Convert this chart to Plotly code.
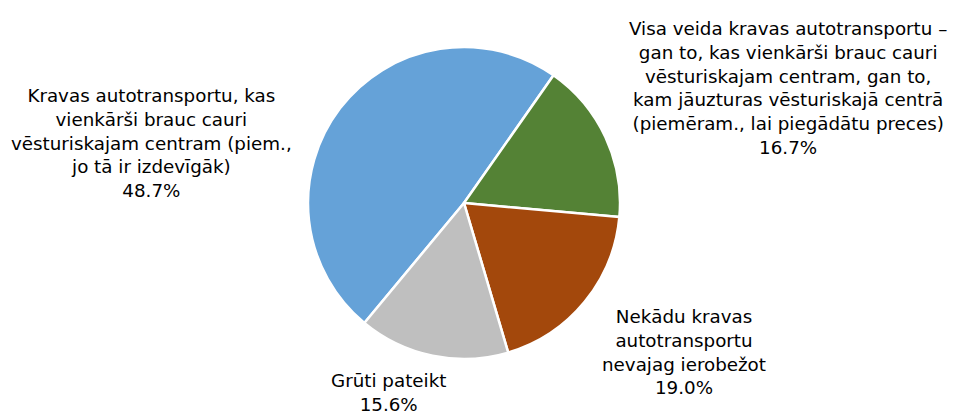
import plotly.graph_objects as go

labels = [
    "Kravas autotransportu, kas<br>vienkārši brauc cauri<br>vēsturiskajam centram (piem.,<br>jo tā ir izdevīgāk)",
    "Visa veida kravas autotransportu –<br>gan to, kas vienkārši brauc cauri<br>vēsturiskajam centram, gan to,<br>kam jāuzturas vēsturiskajā centrā<br>(piemēram., lai piegādātu preces)",
    "Nekādu kravas<br>autotransportu<br>nevajag ierobežot",
    "Grūti pateikt",
]
values = [48.7, 16.7, 19.0, 15.6]
colors = ["#65A2D8", "#548235", "#A3480C", "#BFBFBF"]

W, H = 968, 412
cx, cy, r = 464, 203, 156

fig = go.Figure(go.Pie(
    labels=labels,
    values=values,
    sort=False,
    direction="clockwise",
    rotation=219.7,
    textinfo="none",
    hoverinfo="label+percent",
    marker=dict(colors=colors, line=dict(color="white", width=2.5)),
    domain=dict(x=[(cx - r) / W, (cx + r) / W], y=[(H - cy - r) / H, (H - cy + r) / H]),
    showlegend=False,
))

# label centres (pixels)
label_pos = [(151, 143), (788, 88), (684, 352), (388, 392)]
for lab, val, (px, py) in zip(labels, values, label_pos):
    fig.add_annotation(
        x=px / W, y=1 - py / H, xref="paper", yref="paper",
        text=f"{lab}<br>{val:.1f}%", showarrow=False,
        xanchor="center", yanchor="middle", align="center",
        font=dict(family="DejaVu Sans, sans-serif", size=18.3, color="#000000"),
    )

fig.update_layout(
    width=W, height=H,
    margin=dict(l=0, r=0, t=0, b=0),
    paper_bgcolor="white", plot_bgcolor="white",
)
fig.write_html("out.html", config={"displayModeBar": False},
               post_script="document.body.style.margin='0';")
